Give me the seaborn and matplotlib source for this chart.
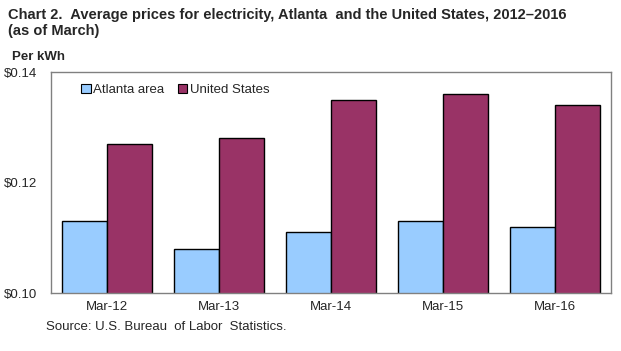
import matplotlib
matplotlib.use("Agg")
import matplotlib.pyplot as plt
import seaborn as sns
import pandas as pd

categories = ["Mar-12", "Mar-13", "Mar-14", "Mar-15", "Mar-16"]
atlanta = [0.113, 0.108, 0.111, 0.113, 0.112]
united_states = [0.127, 0.128, 0.135, 0.136, 0.134]
series_names = ["Atlanta area", "United States"]
y_ticks = [0.10, 0.12, 0.14]
y_tick_labels = ["$0.10", "$0.12", "$0.14"]

df = pd.DataFrame({
    "period": categories * 2,
    "price": atlanta + united_states,
    "series": [series_names[0]] * len(categories) + [series_names[1]] * len(categories),
})

sns.set_theme(style="white")
plt.rcParams["font.family"] = ["Liberation Sans", "DejaVu Sans"]

fig = plt.figure(figsize=(6.21, 3.51), dpi=100)
ax = fig.add_axes([51 / 621, 1 - 293 / 351, 560 / 621, 221 / 351])

sns.barplot(data=df, x="period", y="price", hue="series",
            palette={"Atlanta area": "#99CCFF", "United States": "#993366"},
            edgecolor="black", linewidth=1.0, width=0.8, saturation=1,
            ax=ax)

ax.set_ylim(0.10, 0.14)
ax.set_yticks(y_ticks)
ax.set_yticklabels(y_tick_labels, fontsize=9.5)
ax.set_xlabel("")
ax.set_ylabel("")
ax.set_xlim(-0.5, len(categories) - 0.5)
ax.tick_params(axis="x", length=0, labelsize=9.5, pad=6)
ax.tick_params(axis="y", direction="in", length=4, color="#808080", pad=10)
ax.set_xticks([i - 0.5 for i in range(1, len(categories))], minor=True)
ax.tick_params(axis="x", which="minor", direction="out", length=4, color="#A0A0A0")
for s in ax.spines.values():
    s.set_color("#808080")
    s.set_linewidth(1.0)

leg = ax.legend(loc="upper left", bbox_to_anchor=(0.045, 0.97), ncol=2, frameon=False,
                fontsize=9.5, handlelength=0.7, handleheight=0.7, handletextpad=0.2,
                columnspacing=1.0, borderaxespad=0)
for h in leg.legend_handles:
    h.set_edgecolor("black")
    h.set_linewidth(0.8)

fig.text(8 / 621, 1 - 15 / 351, "Chart 2.  Average prices for electricity, Atlanta  and the United States, 2012\u20132016",
         fontsize=10.5, fontweight="bold", ha="left", va="center")
fig.text(8 / 621, 1 - 31 / 351, "(as of March)", fontsize=10.5, fontweight="bold", ha="left", va="center")
fig.text(12 / 621, 1 - 57 / 351, "Per kWh", fontsize=9.5, fontweight="bold", ha="left", va="center")
fig.text(46 / 621, 1 - 327 / 351, "Source: U.S. Bureau  of Labor  Statistics.", fontsize=9.5, ha="left", va="center")

fig.savefig("out.png", dpi=100)
